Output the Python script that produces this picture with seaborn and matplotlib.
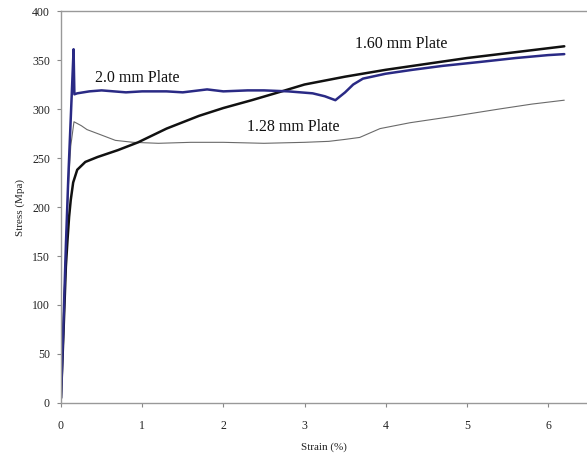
import matplotlib
matplotlib.use("Agg")
import matplotlib.pyplot as plt
import seaborn as sns
import pandas as pd

# 2.0 mm plate
strain_20 = [0.0, 0.03, 0.06, 0.09, 0.12, 0.145, 0.155, 0.165, 0.2, 0.35, 0.5, 0.8, 1.0, 1.3, 1.5, 1.8, 2.0, 2.3, 2.5, 2.8, 3.1, 3.25, 3.38, 3.5, 3.6, 3.72, 4.0, 4.33, 4.7, 5.16, 5.6, 6.0, 6.2]
stress_20 = [5, 80, 160, 230, 290, 340, 361, 315, 316, 318, 319, 317, 318, 318, 317, 320, 318, 319, 319, 318, 316, 313, 309, 317, 325, 331, 336, 340, 344, 348, 352, 355, 356]

# 1.60 mm plate
strain_160 = [0.0, 0.03, 0.06, 0.08, 0.10, 0.12, 0.15, 0.2, 0.3, 0.45, 0.7, 0.95, 1.3, 1.7, 2.0, 2.35, 2.72, 3.0, 3.5, 4.0, 4.5, 5.0, 5.5, 6.0, 6.2]
stress_160 = [5, 70, 139, 166, 190, 207, 225, 238, 246, 251, 258, 266, 280, 293, 301, 309, 318, 325, 333, 340, 346, 352, 357, 362, 364]

# 1.28 mm plate
strain_128 = [0.0, 0.03, 0.06, 0.09, 0.12, 0.16, 0.25, 0.32, 0.48, 0.67, 0.89, 1.2, 1.6, 2.0, 2.5, 3.0, 3.3, 3.5, 3.68, 3.93, 4.3, 4.79, 5.4, 5.8, 6.2]
stress_128 = [5, 80, 160, 220, 262, 287, 283, 279, 274, 268, 266, 265, 266, 266, 265, 266, 267, 269, 271, 280, 286, 292, 300, 305, 309]

labels = ["2.0 mm Plate", "1.60 mm Plate", "1.28 mm Plate"]
y_ticks = [0, 50, 100, 150, 200, 250, 300, 350, 400]
x_ticks = [0, 1, 2, 3, 4, 5, 6]

sns.set_style("white")
plt.rcParams['font.family'] = ['Liberation Serif', 'DejaVu Serif']

fig = plt.figure(figsize=(5.87, 4.55), dpi=100)
ax = fig.add_axes([0.1039, 0.1143, 0.8961, 0.8615])

df20 = pd.DataFrame({"strain": strain_20, "stress": stress_20})
df160 = pd.DataFrame({"strain": strain_160, "stress": stress_160})
df128 = pd.DataFrame({"strain": strain_128, "stress": stress_128})

sns.lineplot(data=df128, x="strain", y="stress", ax=ax, color="#6a6a6a", linewidth=0.8, estimator=None, sort=False)
sns.lineplot(data=df160, x="strain", y="stress", ax=ax, color="#111111", linewidth=1.8, estimator=None, sort=False)
sns.lineplot(data=df20, x="strain", y="stress", ax=ax, color="#2a2a85", linewidth=1.8, estimator=None, sort=False)

ax.set_xlim(0, 6.48)
ax.set_ylim(0, 400)
ax.set_xticks(x_ticks)
ax.set_yticks(y_ticks)
ax.set_xticklabels([str(t) for t in x_ticks], fontsize=8.5, color="#222222")
ax.set_yticklabels([str(t) for t in y_ticks], fontsize=8.5, color="#222222")
ax.tick_params(axis="x", direction="out", length=3, width=0.8, color="#888888", pad=9, bottom=True)
ax.tick_params(axis="y", direction="out", length=3, width=0.8, color="#888888", pad=5, left=True)

ax.set_xlabel("Strain (%)", fontsize=8, labelpad=8, color="#222222")
ax.set_ylabel("Stress (Mpa)", fontsize=8, labelpad=5, color="#222222")

for s in ["left", "bottom", "top"]:
    ax.spines[s].set_color("#999999")
    ax.spines[s].set_linewidth(1.0)
ax.spines["right"].set_visible(False)

ax.text(0.42, 332, labels[0], fontsize=11.5, va="center", ha="left", color="#111111")
ax.text(3.62, 366, labels[1], fontsize=11.5, va="center", ha="left", color="#111111")
ax.text(2.29, 282, labels[2], fontsize=11.5, va="center", ha="left", color="#111111")

fig.savefig("out.png", dpi=100)
